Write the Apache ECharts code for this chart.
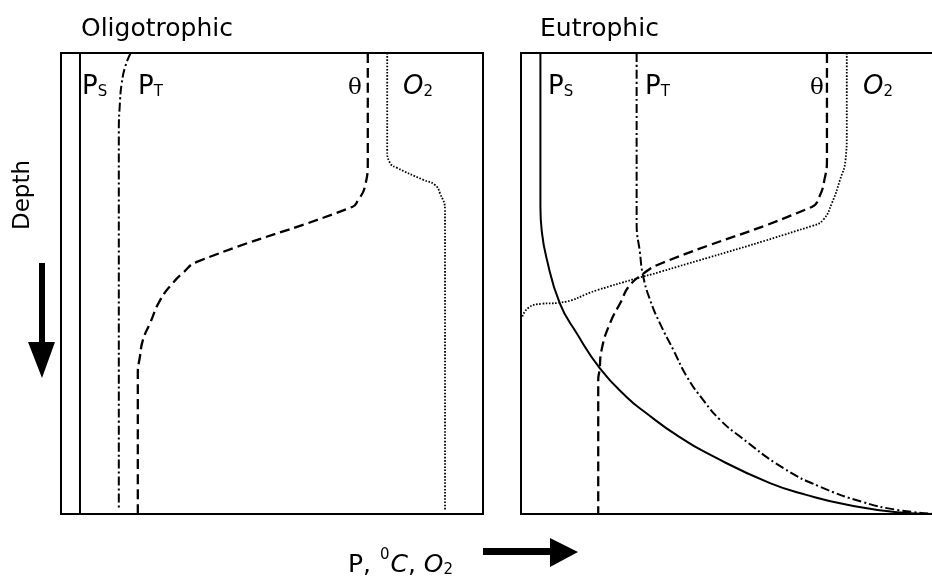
<!DOCTYPE html>
<html><head><meta charset="utf-8">
<script src="https://cdn.jsdelivr.net/npm/echarts@6/dist/echarts.min.js"></script>
<style>html,body{margin:0;padding:0;background:#fff}#c{width:932px;height:578px}</style>
</head><body><div id="c"></div>
<script>
// ---- data: [value (P, °C, O2 in relative units 0-100), depth (0 = surface, 100 = bottom)] ----
const panelTitles = ['Oligotrophic', 'Eutrophic'];
const axisTitleY = 'Depth';

const oligoPs = [[4.5,0],[4.5,100]];
const oligoPt = [[16.5,0],[15.2,3],[14.4,6.5],[14.0,10.2],[13.7,17.4],[13.7,99]];
const oligoTheta = [[72.7,0],[72.7,23.2],[72.0,29.1],[70.4,31.9],[69.0,33.4],[32.2,45.3],[28.9,47.7],[26.5,49.9],[23.5,53.6],[21.1,58.6],[19.4,62.3],[18.7,65.9],[18.2,69.4],[18.2,100]];
const oligoO2 = [[77.3,0],[77.3,21.0],[78.0,23.9],[79.6,24.9],[85.8,27.5],[88.6,28.6],[89.8,30.4],[91.0,34.1],[91.0,99.1]];

const eutroPs = [[4.6,0],[4.6,33.4],[4.9,38.4],[6.0,44.3],[9.2,54.3],[13.2,60.8],[18.7,68.4],[25.0,74.6],[29.8,78.2],[36.9,82.9],[46.4,87.9],[59.0,93.3],[67.8,95.9],[77.3,98.0],[89.1,99.6],[98.1,100]];
const eutroPt = [[27.4,0],[27.4,36.9],[28.2,43.4],[28.9,48.2],[30.6,53.6],[32.9,58.6],[36.1,64.4],[39.3,70.2],[43.2,75.3],[47.2,79.6],[51.9,83.2],[62.1,90.0],[70.9,94.1],[81.0,97.4],[89.1,99.1],[98.1,100]];
const eutroTheta = [[72.5,0],[72.5,23.2],[71.9,27.5],[70.7,31.2],[68.9,33.4],[33.3,45.6],[28.9,47.9],[25.4,50.8],[23.9,53.6],[21.1,58.6],[19.1,64.4],[18.6,68.8],[18.3,70.9],[18.3,100]];
const eutroO2 = [[77.2,0],[77.2,17.4],[76.9,23.2],[75.6,27.5],[73.7,32.5],[71.6,36.2],[69.0,37.5],[32.9,47.5],[27.0,49.0],[18.2,51.4],[8.8,54.2],[4.9,54.4],[1.7,55.3],[0.2,57.5]];

// ---- chart ----
const chart = echarts.init(document.getElementById('c'));
const SANS = '"DejaVu Sans", sans-serif';
const SERIF = '"DejaVu Serif", serif';

const styles = {
  ps:    {color:'#000', width:2, type:'solid'},
  pt:    {color:'#000', width:2, type:[9,3,2,3]},
  theta: {color:'#000', width:2.3, type:[10,5]},
  o2:    {color:'#000', width:1.8, type:[1.6,1.6]}
};
function ser(idx, data, ls){
  return {type:'line', xAxisIndex:idx, yAxisIndex:idx, data:data, symbol:'none', showSymbol:false,
          smooth:0.5, lineStyle:ls, silent:true, animation:false, z:3};
}
function grid(left){
  return {left:left, top:53, width:422, height:461, show:true, borderColor:'#000', borderWidth:2,
          backgroundColor:'transparent', containLabel:false, outerBoundsMode:'none'};
}
function xa(i){ return {gridIndex:i, type:'value', min:0, max:100, show:false}; }
function ya(i){ return {gridIndex:i, type:'value', min:0, max:100, inverse:true, show:false}; }

const richLab = {
  p:{fontFamily:SANS, fontSize:26, lineHeight:28, verticalAlign:'bottom', fill:'#000', color:'#000'},
  s:{fontFamily:SANS, fontSize:15, lineHeight:20, verticalAlign:'bottom', fill:'#000', color:'#000'},
  o:{fontFamily:SANS, fontSize:26, fontStyle:'italic', lineHeight:28, verticalAlign:'bottom', fill:'#000', color:'#000'},
  th:{fontFamily:SERIF, fontSize:23, lineHeight:28, verticalAlign:'bottom', fill:'#000', color:'#000'}
};
function lab(x, txt){
  return {type:'text', x:x, y:100, z:10, style:{text:txt, rich:richLab, fill:'#000',
          align:'left', verticalAlign:'bottom', textAlign:'left', textVerticalAlign:'bottom'}};
}

const graphics = [
  {type:'text', x:81, y:42, style:{text:panelTitles[0], font:'25px '+SANS, fill:'#000', textVerticalAlign:'bottom', verticalAlign:'bottom'}},
  {type:'text', x:540, y:42, style:{text:panelTitles[1], font:'25px '+SANS, fill:'#000', textVerticalAlign:'bottom', verticalAlign:'bottom'}},
  lab(82, '{p|P}{s|S}'), lab(138, '{p|P}{s|T}'), lab(348, '{th|θ}'), lab(403, '{o|O}{s|2}'),
  lab(548, '{p|P}{s|S}'), lab(645, '{p|P}{s|T}'), lab(810, '{th|θ}'), lab(863, '{o|O}{s|2}'),
  {type:'text', x:23, y:195, rotation:Math.PI/2, style:{text:axisTitleY, font:'23px '+SANS, fill:'#000',
     align:'center', verticalAlign:'middle', textAlign:'center', textVerticalAlign:'middle'}},
  {type:'polygon', shape:{points:[[39,263],[45,263],[45,342],[55,342],[42,378],[28,342],[39,342]]}, style:{fill:'#000'}},
  {type:'text', x:348, y:578, style:{
     text:'{n|P, }{sup|0}{i|C}{n|, }{i|O}{sub|2}', fill:'#000', align:'left', verticalAlign:'bottom', textAlign:'left', textVerticalAlign:'bottom',
     rich:{
       n:{fontFamily:SANS, fontSize:25, lineHeight:30, verticalAlign:'bottom'},
       i:{fontFamily:SANS, fontSize:25, fontStyle:'italic', lineHeight:30, verticalAlign:'bottom'},
       sup:{fontFamily:SANS, fontSize:15, lineHeight:20, verticalAlign:'top', padding:[0,1,0,1]},
       sub:{fontFamily:SANS, fontSize:15, lineHeight:21, verticalAlign:'bottom'}
     }}},
  {type:'polygon', shape:{points:[[483,548],[550,548],[550,538],[578,552],[550,567],[550,555],[483,555]]}, style:{fill:'#000'}}
];

chart.setOption({
  animation:false,
  backgroundColor:'#fff',
  grid:[grid(61), grid(521)],
  xAxis:[xa(0), xa(1)],
  yAxis:[ya(0), ya(1)],
  series:[
    ser(0, oligoPs, styles.ps), ser(0, oligoPt, styles.pt), ser(0, oligoTheta, styles.theta), ser(0, oligoO2, styles.o2),
    ser(1, eutroPs, styles.ps), ser(1, eutroPt, styles.pt), ser(1, eutroTheta, styles.theta), ser(1, eutroO2, styles.o2)
  ],
  graphic:graphics
});
</script></body></html>
